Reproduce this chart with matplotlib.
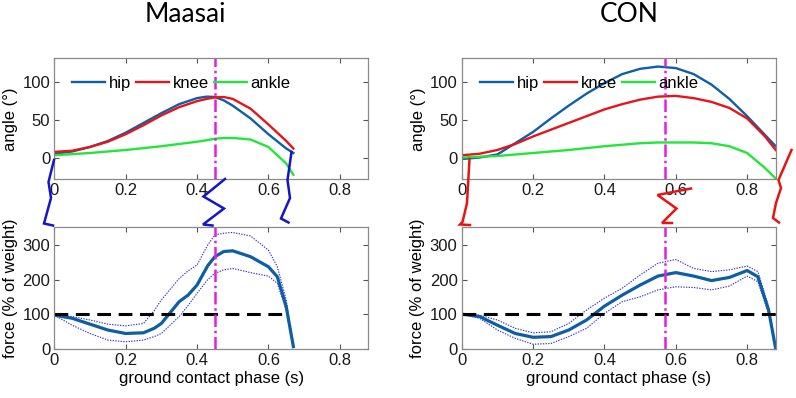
import numpy as np
import matplotlib
matplotlib.use('Agg')
import matplotlib.pyplot as plt
from matplotlib.lines import Line2D

# ---- joint angles (deg) ----
t_ang_m = [0, 0.05, 0.1, 0.15, 0.2, 0.25, 0.3, 0.35, 0.4, 0.427, 0.45, 0.475, 0.5, 0.55, 0.6, 0.65, 0.67]
hip_m   = [5, 8, 14, 22, 33, 46, 59, 71, 79, 81, 80.5, 76, 69, 52, 31, 12, 6]
knee_m  = [7.5, 9, 14, 21, 31, 43, 56, 67, 75, 78, 80, 80.5, 78, 65, 44, 22, 12]
ankle_m = [3, 4.5, 6, 8, 10, 12.5, 15, 18, 21, 23, 25, 26, 26, 24, 14, -8, -23]

t_ang_c = [0, 0.05, 0.1, 0.15, 0.2, 0.25, 0.3, 0.35, 0.4, 0.45, 0.5, 0.55, 0.6, 0.65, 0.7, 0.75, 0.8, 0.85, 0.88]
hip_c   = [-2, 0, 4, 19, 34, 52, 69, 85, 99, 111, 118, 121, 119, 111, 97, 78, 55, 30, 15]
knee_c  = [3, 5, 10, 18, 28, 37, 46, 55, 64, 71, 77, 81, 82, 79, 74, 66, 52, 28, 10]
ankle_c = [0, 1, 2, 4, 6, 8, 10, 12.5, 15, 17, 19, 20, 20, 20, 19, 15, 6, -14, -28]

# ---- ground reaction force (% of body weight) ----
t_f_m   = [0, 0.05, 0.1, 0.15, 0.2, 0.25, 0.28, 0.3, 0.35, 0.375, 0.4, 0.43, 0.45, 0.475, 0.5, 0.55, 0.6, 0.625, 0.65, 0.67]
f_m     = [97, 88, 71, 54, 44, 46, 59, 73, 136, 155, 184, 240, 266, 281, 283, 266, 237, 208, 121, 6]
f_m_hi  = [97, 93, 83, 71, 66, 73, 110, 141, 203, 225, 242, 300, 329, 334, 336, 326, 285, 237, 141, 6]
f_m_lo  = [97, 68, 44, 25, 20, 25, 35, 44, 93, 125, 160, 200, 218, 228, 232, 220, 210, 189, 112, 6]

t_f_c   = [0, 0.05, 0.1, 0.15, 0.2, 0.25, 0.3, 0.35, 0.4, 0.45, 0.5, 0.55, 0.6, 0.65, 0.7, 0.75, 0.8, 0.83, 0.86, 0.88]
f_c     = [100, 93, 68, 44, 33, 35, 54, 83, 123, 155, 184, 210, 220, 210, 197, 206, 226, 208, 112, 0]
f_c_hi  = [100, 97, 83, 59, 46, 49, 73, 112, 146, 175, 213, 247, 258, 232, 223, 228, 239, 223, 122, 0]
f_c_lo  = [100, 88, 54, 30, 13, 15, 35, 59, 102, 136, 150, 170, 179, 177, 170, 181, 210, 194, 102, 0]

peak_m, peak_c = 0.45, 0.57
dash_end_m, dash_end_c = 0.65, 0.88

titles = ['Maasai', 'CON']
legend_labels = ['hip', 'knee', 'ankle']

# hand-drawn stick-leg squiggles (image pixels)
W, H = 796, 398
squiggles_blue = [
    [(54, 160), (48.5, 182), (51, 198), (44, 223.5), (53, 225.5)],
    [(225, 179), (203.5, 196.5), (224, 208.5), (203, 224.5), (212.5, 225.5)],
    [(291.5, 152), (287.5, 180), (290, 198), (281, 218.5), (288.5, 222.5)],
]
squiggles_red = [
    [(469.5, 159), (467, 203), (462.5, 222), (460, 224.5), (470, 225)],
    [(691, 188.5), (657.5, 195), (676.5, 208.5), (662, 223), (672, 223)],
    [(791.5, 150), (778.5, 180), (781, 188), (776, 203), (773, 218), (779, 222.5)],
]

c_hip, c_knee, c_ankle = '#0e5fa6', '#e6141b', '#22e63a'
c_mag = '#e21ee2'
c_force = '#0d5ea3'
c_band = '#2a2ad2'
fs = 12

plt.rcParams['font.family'] = ['Liberation Sans', 'DejaVu Sans']
fig = plt.figure(figsize=(7.96, 3.98), dpi=100)

axw = 314 / W
axh_top = 121 / H
axh_bot = 121.4 / H
lefts = [54.3 / W, 461.7 / W]
ax_top = [fig.add_axes([l, 1 - 179.3 / H, axw, axh_top]) for l in lefts]
ax_bot = [fig.add_axes([l, 1 - 348.7 / H, axw, axh_bot]) for l in lefts]


def style(ax):
    ax.set_xlim(0, 0.88)
    ax.set_xticks([0, 0.2, 0.4, 0.6, 0.8])
    ax.set_xticklabels(['0', '0.2', '0.4', '0.6', '0.8'])
    ax.tick_params(direction='in', length=3.5, width=0.8, color='#555555',
                   labelsize=fs, labelcolor='#1a1a1a', top=True, right=True, pad=3)
    for s in ax.spines.values():
        s.set_color('#8a8a8a')
        s.set_linewidth(0.9)


angle_sets = [(t_ang_m, hip_m, knee_m, ankle_m, peak_m),
              (t_ang_c, hip_c, knee_c, ankle_c, peak_c)]
for ax, (t, h, k, a, pk), lx in zip(ax_top, angle_sets, [0.056, 0.058]):
    l1, = ax.plot(t, h, color=c_hip, lw=1.7)
    l2, = ax.plot(t, k, color=c_knee, lw=1.7)
    l3, = ax.plot(t, a, color=c_ankle, lw=1.7)
    ax.axvline(pk, color=c_mag, lw=1.8, dashes=(5, 1.5, 1, 1.5))
    ax.set_ylim(-29, 132)
    ax.set_yticks([0, 50, 100])
    ax.set_ylabel('angle (°)', fontsize=fs, labelpad=3)
    style(ax)
    ax.legend([l1, l2, l3], legend_labels, loc='center left', bbox_to_anchor=(lx, 0.79),
              ncol=3, frameon=False, fontsize=fs, handlelength=2.0, handletextpad=0.2,
              columnspacing=0.3, borderpad=0, borderaxespad=0)

force_sets = [(t_f_m, f_m, f_m_hi, f_m_lo, peak_m, dash_end_m),
              (t_f_c, f_c, f_c_hi, f_c_lo, peak_c, dash_end_c)]
for ax, (t, f, hi, lo, pk, de) in zip(ax_bot, force_sets):
    ax.plot(t, hi, color=c_band, lw=0.8, ls=(0, (1.2, 1.2)))
    ax.plot(t, lo, color=c_band, lw=0.8, ls=(0, (1.2, 1.2)))
    ax.plot(t, f, color=c_force, lw=2.3)
    ax.plot([0, de], [100, 100], color='black', lw=2.2, dashes=(4.5, 2.5))
    ax.axvline(pk, color=c_mag, lw=1.8, dashes=(5, 1.5, 1, 1.5))
    ax.set_ylim(0, 351)
    ax.set_yticks([0, 100, 200, 300])
    ax.set_ylabel('force (% of weight)', fontsize=fs, labelpad=3)
    ax.set_xlabel('ground contact phase (s)', fontsize=fs, labelpad=2)
    style(ax)

for pts_list, col in [(squiggles_blue, '#1414c8'), (squiggles_red, '#e81414')]:
    for pts in pts_list:
        xs = [p[0] / W for p in pts]
        ys = [1 - p[1] / H for p in pts]
        fig.add_artist(Line2D(xs, ys, transform=fig.transFigure, color=col, lw=1.8,
                              solid_joinstyle='miter'))

fig.text(185.5 / W, 1 - 22 / H, titles[0], ha='center', va='baseline',
         fontsize=19, family=['Lato', 'DejaVu Sans'], color='black')
fig.text(629 / W, 1 - 22 / H, titles[1], ha='center', va='baseline',
         fontsize=19, family=['Lato', 'DejaVu Sans'], color='black')

fig.savefig('out.png', dpi=100)
